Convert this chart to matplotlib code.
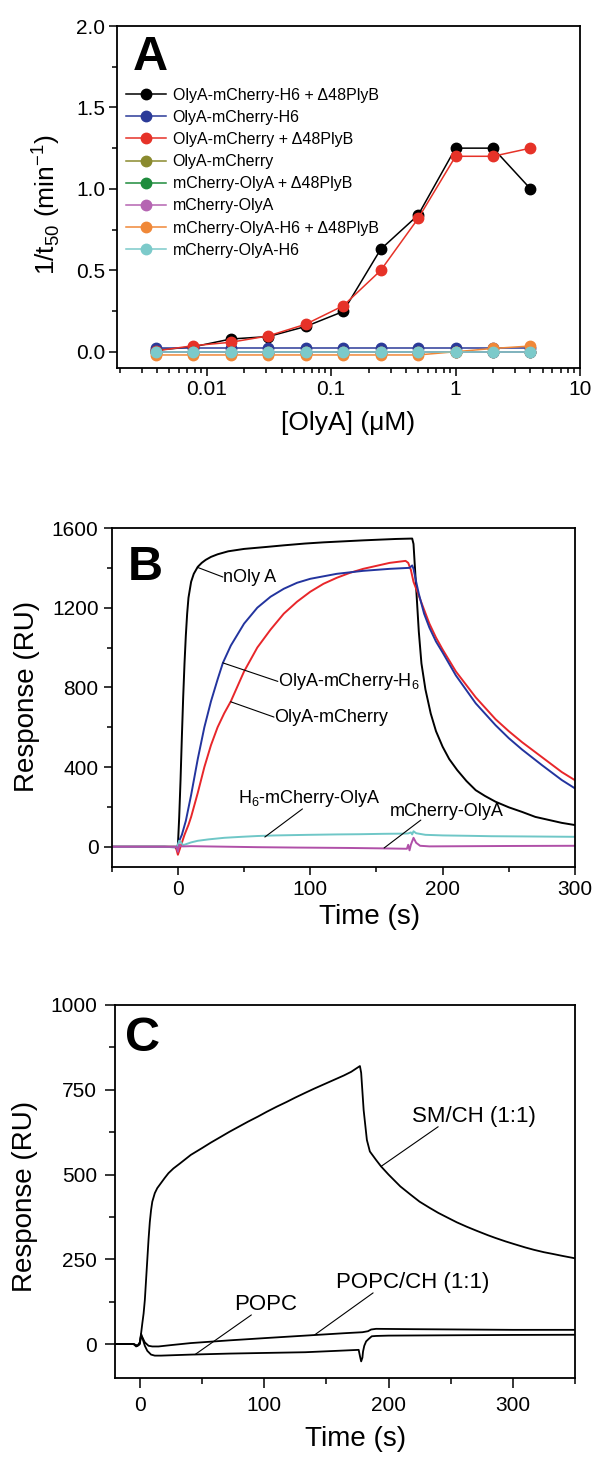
import matplotlib
matplotlib.use('Agg')
import matplotlib.pyplot as plt
from matplotlib.ticker import MultipleLocator, LogLocator, NullFormatter, FixedLocator, FixedFormatter, FormatStrFormatter

plt.rcParams['font.family'] = ['Liberation Sans', 'DejaVu Sans']
plt.rcParams['axes.linewidth'] = 1.3

# ---------------- Panel A data ----------------
conc_uM = [0.0039, 0.0078, 0.0156, 0.03125, 0.0625, 0.125, 0.25, 0.5, 1, 2, 4]
a_labels = ['OlyA-mCherry-H6 + Δ48PlyB', 'OlyA-mCherry-H6', 'OlyA-mCherry + Δ48PlyB',
            'OlyA-mCherry', 'mCherry-OlyA + Δ48PlyB', 'mCherry-OlyA',
            'mCherry-OlyA-H6 + Δ48PlyB', 'mCherry-OlyA-H6']
a_colors = ['#000000', '#2b3a98', '#e63228', '#8a8a2e', '#1e8b3c', '#b565b2', '#f08838', '#7ccaca']
olya_mch_h6_plyb = [0.01, 0.03, 0.078, 0.093, 0.155, 0.247, 0.629, 0.839, 1.25, 1.25, 1.0]
olya_mch_h6 = [0.02, 0.02, 0.02, 0.02, 0.02, 0.02, 0.02, 0.02, 0.02, 0.02, 0.02]
olya_mch_plyb = [0.005, 0.037, 0.058, 0.097, 0.169, 0.282, 0.499, 0.818, 1.2, 1.2, 1.25]
olya_mch = [0.0, 0.0, 0.0, 0.0, 0.0, 0.0, 0.0, 0.0, 0.0, 0.0, 0.0]
mch_olya_plyb = [0.0, 0.0, 0.0, 0.0, 0.0, 0.0, 0.0, 0.0, 0.0, 0.0, 0.0]
mch_olya = [0.0, 0.0, 0.0, 0.0, 0.0, 0.0, 0.0, 0.0, 0.0, 0.0, 0.0]
mch_olya_h6_plyb = [-0.02, -0.02, -0.02, -0.02, -0.02, -0.02, -0.02, -0.02, 0.0, 0.02, 0.035]
mch_olya_h6 = [0.0, 0.0, 0.0, 0.0, 0.0, 0.0, 0.0, 0.0, 0.0, 0.0, 0.0]
a_series = [olya_mch_h6_plyb, olya_mch_h6, olya_mch_plyb, olya_mch,
            mch_olya_plyb, mch_olya, mch_olya_h6_plyb, mch_olya_h6]

# ---------------- Panel B data ----------------
b_black_t = [-50, -10, -1, 0, 1, 2, 3, 4, 5, 6, 7, 8, 10, 12, 15, 18, 21, 25, 30, 38, 50, 67, 80, 96,
             110, 125, 140, 154, 165, 177, 178, 180, 182, 184, 187, 191, 195, 200, 205, 211, 218, 225,
             232, 240, 250, 260, 270, 280, 290, 300]
b_black_v = [0, 0, 0, 5, 150, 334, 550, 750, 920, 1060, 1170, 1250, 1330, 1370, 1405, 1425, 1440, 1455,
             1468, 1483, 1495, 1505, 1513, 1522, 1528, 1533, 1538, 1542, 1545, 1547, 1520, 1300, 1080,
             920, 790, 669, 580, 502, 440, 385, 330, 284, 255, 226, 198, 175, 150, 135, 120, 109]
b_red_t = [-50, -10, -2, -1, 0, 1, 3, 5, 8, 10, 15, 20, 25, 30, 35, 40, 50, 60, 70, 80, 90, 100, 110,
           120, 130, 140, 150, 160, 172, 174, 176, 178, 182, 186, 190, 195, 200, 210, 225, 240, 250,
           260, 275, 290, 300]
b_red_v = [0, 0, 0, -15, -40, -20, 20, 60, 110, 150, 270, 400, 510, 600, 670, 730, 880, 1000, 1090,
           1170, 1230, 1280, 1320, 1350, 1375, 1395, 1410, 1425, 1435, 1425, 1390, 1330, 1260, 1190,
           1120, 1050, 990, 880, 750, 640, 580, 525, 450, 375, 334]
b_blue_t = [-50, -10, -1, 0, 1, 3, 6, 10, 15, 20, 25, 30, 34, 40, 50, 60, 70, 80, 90, 100, 120, 140,
            160, 175, 177, 178, 180, 182, 186, 190, 195, 200, 210, 225, 240, 250, 260, 275, 290, 300]
b_blue_v = [0, 0, -3, 10, 30, 60, 130, 260, 440, 600, 730, 840, 923, 1010, 1120, 1200, 1255, 1295,
            1325, 1345, 1370, 1385, 1395, 1400, 1412, 1395, 1330, 1270, 1170, 1100, 1030, 975, 860,
            720, 610, 545, 488, 410, 335, 293]
b_cyan_t = [-50, -5, -1, 0, 1, 2, 4, 7, 10, 15, 23, 35, 48, 60, 74, 99, 120, 137, 155, 170, 174, 176,
            177, 178, 180, 187, 200, 220, 237, 260, 280, 300]
b_cyan_v = [0, 0, 0, 10, 30, 25, 8, 15, 22, 30, 37, 45, 50, 54, 57, 60, 62, 63, 65, 66, 67, 72, 62,
            78, 68, 60, 57, 55, 53, 52, 51, 50]
b_mag_t = [-50, -5, -1, 0, 1, 2, 4, 10, 30, 60, 90, 111, 130, 154, 173, 174, 175, 176, 178, 180, 183,
           190, 220, 250, 300]
b_mag_v = [0, 0, 0, -25, 10, 3, 2, 3, 1, -2, -4, -5, -6, -8, -10, 10, -18, 10, 45, 20, 5, 2, 3, 4, 5]

# ---------------- Panel C data ----------------
c_sm_t = [-20, -5, -3, -1, 0, 1, 2, 3, 4, 5, 6, 7, 8, 9, 10, 12, 14, 17, 20, 23, 27, 32, 41, 50, 57,
          65, 72, 80, 87, 95, 102, 110, 118, 125, 133, 140, 148, 156, 164, 170, 177, 178, 180, 182.6,
          185, 190, 194, 200, 209.5, 218, 225, 233, 240, 248, 255, 263, 271, 280, 286, 294, 301, 310,
          317, 325, 332, 340, 350]
c_sm_v = [0, 0, -7, -3, 5, 32, 62, 90, 130, 190, 250, 310, 360, 395, 420, 445, 460, 475, 490, 504,
          518, 532, 558, 578, 594, 611, 626, 642, 656, 671, 685, 700, 714, 727, 741, 753, 766, 779,
          792, 803, 820, 800, 690, 602, 568, 543, 524, 500, 465, 440, 420, 402, 387, 372, 359, 346,
          334, 321, 313, 303, 295, 285, 278, 271, 266, 260, 253]
c_popcch_t = [-20, -5, -2, 0, 1, 2, 4, 7, 10, 15, 25, 41, 72, 102, 133, 164, 179, 183.5, 186, 190, 220,
              260, 300, 350]
c_popcch_v = [0, 0, -5, 0, 30, 20, 5, -5, -7, -7, -3, 3, 11, 18, 25, 32, 35, 38, 43, 45, 44, 43, 42, 42]
c_popc_t = [-20, -5, -2, 0, 1, 2, 4, 6, 9, 12, 17, 25, 41, 72, 102, 133, 164, 176, 177, 178, 179,
            179.5, 180.5, 182, 184, 186.5, 190, 200, 250, 300, 350]
c_popc_v = [0, 0, -5, 5, 25, 18, -5, -20, -31, -34, -34, -33, -31, -28, -26, -24, -19, -17, -35, -51,
            -40, -22, -5, 8, 15, 23, 24, 25, 26, 27, 27.5]

fig = plt.figure(figsize=(5.98, 14.58), dpi=100)
W, H = 598.0, 1458.0


def add_axes(l, r, t, b):
    return fig.add_axes([l / W, 1 - b / H, (r - l) / W, (b - t) / H])


def style(ax, pad, majlen, minlen):
    ax.tick_params(which='both', direction='out', top=False, right=False, width=1.1,
                   labelsize=15, pad=pad)
    ax.tick_params(which='major', length=majlen)
    ax.tick_params(which='minor', length=minlen)


# ---------------- Panel A ----------------
axA = add_axes(117, 580, 26, 368)
for ser, lab, col in zip(a_series, a_labels, a_colors):
    axA.plot(conc_uM, ser, '-o', color=col, lw=1.1, ms=7.5, label=lab)
axA.set_xscale('log')
axA.set_xlim(0.0019, 10)
axA.set_ylim(-0.1, 2.0)
axA.xaxis.set_major_locator(FixedLocator([0.01, 0.1, 1, 10]))
axA.xaxis.set_major_formatter(FixedFormatter(['0.01', '0.1', '1', '10']))
axA.xaxis.set_minor_locator(LogLocator(base=10, subs=range(2, 10), numticks=20))
axA.xaxis.set_minor_formatter(NullFormatter())
axA.yaxis.set_major_locator(MultipleLocator(0.5))
axA.yaxis.set_minor_locator(MultipleLocator(0.25))
axA.yaxis.set_major_formatter(FormatStrFormatter('%.1f'))
style(axA, 2.5, 6, 3.5)
axA.set_xlabel('[OlyA] (μM)', fontsize=19)
axA.xaxis.set_label_coords(0.5, -0.125)
axA.set_ylabel('1/t$_{\\mathregular{50}}$ (min$^{\\mathregular{-1}}$)', fontsize=19)
axA.yaxis.set_label_coords(-0.118, 0.477)
axA.text(0.035, 0.975, 'A', transform=axA.transAxes, fontsize=35, fontweight='bold',
         ha='left', va='top')
axA.legend(loc='upper left', bbox_to_anchor=(0.02, 0.82), frameon=False, fontsize=11.5,
           numpoints=1, handlelength=2.5, handletextpad=0.4, labelspacing=0.45,
           borderpad=0, borderaxespad=0)

# ---------------- Panel B ----------------
axB = add_axes(111.7, 575, 528, 866.7)
axB.plot(b_black_t, b_black_v, color='#000000', lw=1.4)
axB.plot(b_red_t, b_red_v, color='#e8262a', lw=1.4)
axB.plot(b_blue_t, b_blue_v, color='#23349e', lw=1.4)
axB.plot(b_cyan_t, b_cyan_v, color='#6fc7c7', lw=1.4)
axB.plot(b_mag_t, b_mag_v, color='#b050a8', lw=1.4)
axB.set_xlim(-50, 300)
axB.set_ylim(-100, 1600)
axB.xaxis.set_major_locator(MultipleLocator(100))
axB.xaxis.set_minor_locator(MultipleLocator(50))
axB.yaxis.set_major_locator(MultipleLocator(400))
axB.yaxis.set_minor_locator(MultipleLocator(200))
style(axB, 3.5, 6, 3.5)
axB.set_xlabel('Time (s)', fontsize=20)
axB.xaxis.set_label_coords(0.557, -0.11)
axB.set_ylabel('Response (RU)', fontsize=20)
axB.yaxis.set_label_coords(-0.155, 0.504)
axB.text(0.035, 0.95, 'B', transform=axB.transAxes, fontsize=35, fontweight='bold',
         ha='left', va='top')

ann_kw = dict(arrowstyle='-', lw=0.8, color='black', shrinkA=0, shrinkB=0, patchA=None)
axB.annotate('nOly A', xy=(15, 1402), xytext=(34, 1354), fontsize=13, ha='left', va='center',
             arrowprops=dict(relpos=(0, 0.5), **ann_kw))
axB.annotate('OlyA-mCherry-H$_{\\mathregular{6}}$', xy=(34, 923), xytext=(75.5, 830), fontsize=13,
             ha='left', va='center', arrowprops=dict(relpos=(0, 0.5), **ann_kw))
axB.annotate('OlyA-mCherry', xy=(39.8, 728), xytext=(72.6, 651), fontsize=13,
             ha='left', va='center', arrowprops=dict(relpos=(0, 0.5), **ann_kw))
axB.annotate('H$_{\\mathregular{6}}$-mCherry-OlyA', xy=(65.7, 49), xytext=(45.6, 190), fontsize=13,
             ha='left', va='bottom', arrowprops=dict(relpos=(0.45, 0), **ann_kw))
axB.annotate('mCherry-OlyA', xy=(155.8, -6), xytext=(160.3, 134), fontsize=13,
             ha='left', va='bottom', arrowprops=dict(relpos=(0.27, 0), **ann_kw))

# ---------------- Panel C ----------------
axC = add_axes(115, 575, 1005, 1378)
axC.plot(c_sm_t, c_sm_v, color='black', lw=1.3)
axC.plot(c_popcch_t, c_popcch_v, color='black', lw=1.3)
axC.plot(c_popc_t, c_popc_v, color='black', lw=1.3)
axC.set_xlim(-20, 350)
axC.set_ylim(-100, 1000)
axC.xaxis.set_major_locator(MultipleLocator(100))
axC.xaxis.set_minor_locator(MultipleLocator(50))
axC.yaxis.set_major_locator(MultipleLocator(250))
axC.yaxis.set_minor_locator(MultipleLocator(125))
style(axC, 6, 7, 4)
axC.set_xlabel('Time (s)', fontsize=20)
axC.xaxis.set_label_coords(0.522, -0.13)
axC.set_ylabel('Response (RU)', fontsize=20)
axC.yaxis.set_label_coords(-0.167, 0.488)
axC.text(0.022, 0.97, 'C', transform=axC.transAxes, fontsize=35, fontweight='bold',
         ha='left', va='top')
axC.annotate('SM/CH (1:1)', xy=(194, 524), xytext=(219, 641), fontsize=16,
             ha='left', va='bottom', arrowprops=dict(relpos=(0.21, 0), **ann_kw))
axC.annotate('POPC/CH (1:1)', xy=(140.7, 27.5), xytext=(158, 151), fontsize=16,
             ha='left', va='bottom', arrowprops=dict(relpos=(0.24, 0), **ann_kw))
axC.annotate('POPC', xy=(44.3, -31), xytext=(76, 86), fontsize=16,
             ha='left', va='bottom', arrowprops=dict(relpos=(0.27, 0), **ann_kw))

fig.savefig('out.png', dpi=100)
